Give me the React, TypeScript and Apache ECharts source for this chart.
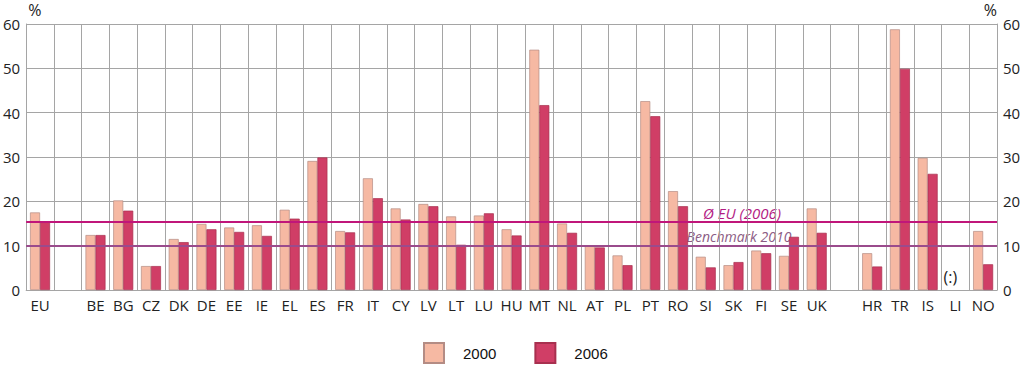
import React, { useEffect, useRef } from "react";
import * as echarts from "echarts";

const categories = ["EU", "", "BE", "BG", "CZ", "DK", "DE", "EE", "IE", "EL", "ES", "FR", "IT", "CY", "LV", "LT", "LU", "HU", "MT", "NL", "AT", "PL", "PT", "RO", "SI", "SK", "FI", "SE", "UK", " ", "HR", "TR", "IS", "LI", "NO"];
const values2000 = [17.5, null, 12.4, 20.2, 5.4, 11.5, 14.9, 14.1, 14.6, 18.1, 29.1, 13.3, 25.2, 18.4, 19.4, 16.6, 16.8, 13.7, 54.2, 15.0, 9.9, 7.8, 42.6, 22.3, 7.5, 5.6, 8.9, 7.7, 18.4, null, 8.3, 58.8, 29.8, null, 13.3];
const values2006 = [15.3, null, 12.4, 17.9, 5.4, 10.8, 13.7, 13.1, 12.2, 16.1, 29.9, 13.0, 20.7, 15.9, 18.9, 10.2, 17.3, 12.3, 41.7, 12.9, 9.6, 5.6, 39.2, 18.9, 5.1, 6.3, 8.3, 12.0, 12.9, null, 5.3, 49.9, 26.2, null, 5.8];
const euAverage2006 = 15.3;
const benchmark2010 = 10;
const yTicks = { min: 0, max: 60, interval: 10 };

const FONT = "'Open Sans', 'Noto Sans', sans-serif";

export default function App() {
  const ref = useRef<HTMLDivElement>(null);
  useEffect(() => {
    if (!ref.current) return;
    const chart = echarts.init(ref.current, undefined, { renderer: "svg" });
    const gridColor = "#a5a5a5";
    const yAxisBase = {
      type: "value",
      min: yTicks.min,
      max: yTicks.max,
      interval: yTicks.interval,
      name: "%",
      nameLocation: "end",
      nameGap: 6,
      axisTick: { show: false },
      axisLine: { show: true, lineStyle: { color: gridColor, width: 1 } },
      axisLabel: { color: "#222", fontSize: 15, fontFamily: FONT, margin: 6 },
      splitLine: { show: true, lineStyle: { color: gridColor, width: 1 } },
    };
    chart.setOption({
      animation: false,
      backgroundColor: "#ffffff",
      grid: { left: 23, right: 27, top: 24, bottom: 79, containLabel: false },
      legend: {
        left: 423,
        top: 342,
        padding: 0,
        itemWidth: 20,
        itemHeight: 20,
        itemGap: 38,
        icon: "rect",
        data: ["2000", "2006"],
        textStyle: { color: "#111", fontSize: 15, fontFamily: "'Liberation Sans', Arial, sans-serif", padding: [0, 0, 0, 14] },
      },
      xAxis: {
        type: "category",
        data: categories,
        boundaryGap: true,
        axisTick: { show: false },
        axisLine: { show: true, lineStyle: { color: gridColor, width: 1 } },
        axisLabel: { interval: 0, color: "#222", fontSize: 15, fontFamily: FONT, margin: 7 },
        splitLine: { show: true, interval: 0, lineStyle: { color: gridColor, width: 1 } },
      },
      yAxis: [
        { ...yAxisBase, position: "left", nameTextStyle: { align: "left", color: "#222", fontSize: 16, fontFamily: FONT, padding: [0, 0, 0, 2] } },
        { ...yAxisBase, position: "right", splitLine: { show: false }, nameTextStyle: { align: "right", color: "#222", fontSize: 16, fontFamily: FONT, padding: [0, 0, 0, 0] } },
      ],
      series: [
        {
          name: "2000",
          type: "bar",
          data: values2000,
          barWidth: 10,
          barGap: "0%",
          itemStyle: { color: "#f6b9a3", borderColor: "#b48c84", borderWidth: 0.7 },
          markPoint: {
            symbol: "circle",
            symbolSize: 0,
            silent: true,
            data: [{ coord: ["LI", 2.9], value: "(:)" }],
            label: { show: true, position: "inside", formatter: "(:)", color: "#222", fontSize: 16, fontFamily: FONT },
          },
        },
        {
          name: "2006",
          type: "bar",
          data: values2006,
          barWidth: 10,
          itemStyle: { color: "#d03e66", borderColor: "#a8304f", borderWidth: 0.7 },
          markLine: {
            silent: true,
            symbol: "none",
            label: { show: false },
            data: [
              { yAxis: euAverage2006, lineStyle: { color: "#c0167a", width: 2, type: "solid" } },
              { yAxis: benchmark2010, lineStyle: { color: "#9a4b8c", width: 2, type: "solid" } },
            ],
          },
        },
      ],
      graphic: [
        {
          type: "text",
          x: 742,
          y: 212.5,
          style: { text: "Ø EU (2006)", fill: "#b31b83", font: `italic 15px ${FONT}`, align: "center", verticalAlign: "middle" },
        },
        {
          type: "text",
          x: 739,
          y: 236.5,
          style: { text: "Benchmark 2010", fill: "#8c5c84", font: `italic 14px ${FONT}`, align: "center", verticalAlign: "middle" },
        },
      ],
    });
    return () => chart.dispose();
  }, []);
  return <div ref={ref} style={{ width: 1024, height: 369, position: "absolute", left: 0, top: 0 }} />;
}
